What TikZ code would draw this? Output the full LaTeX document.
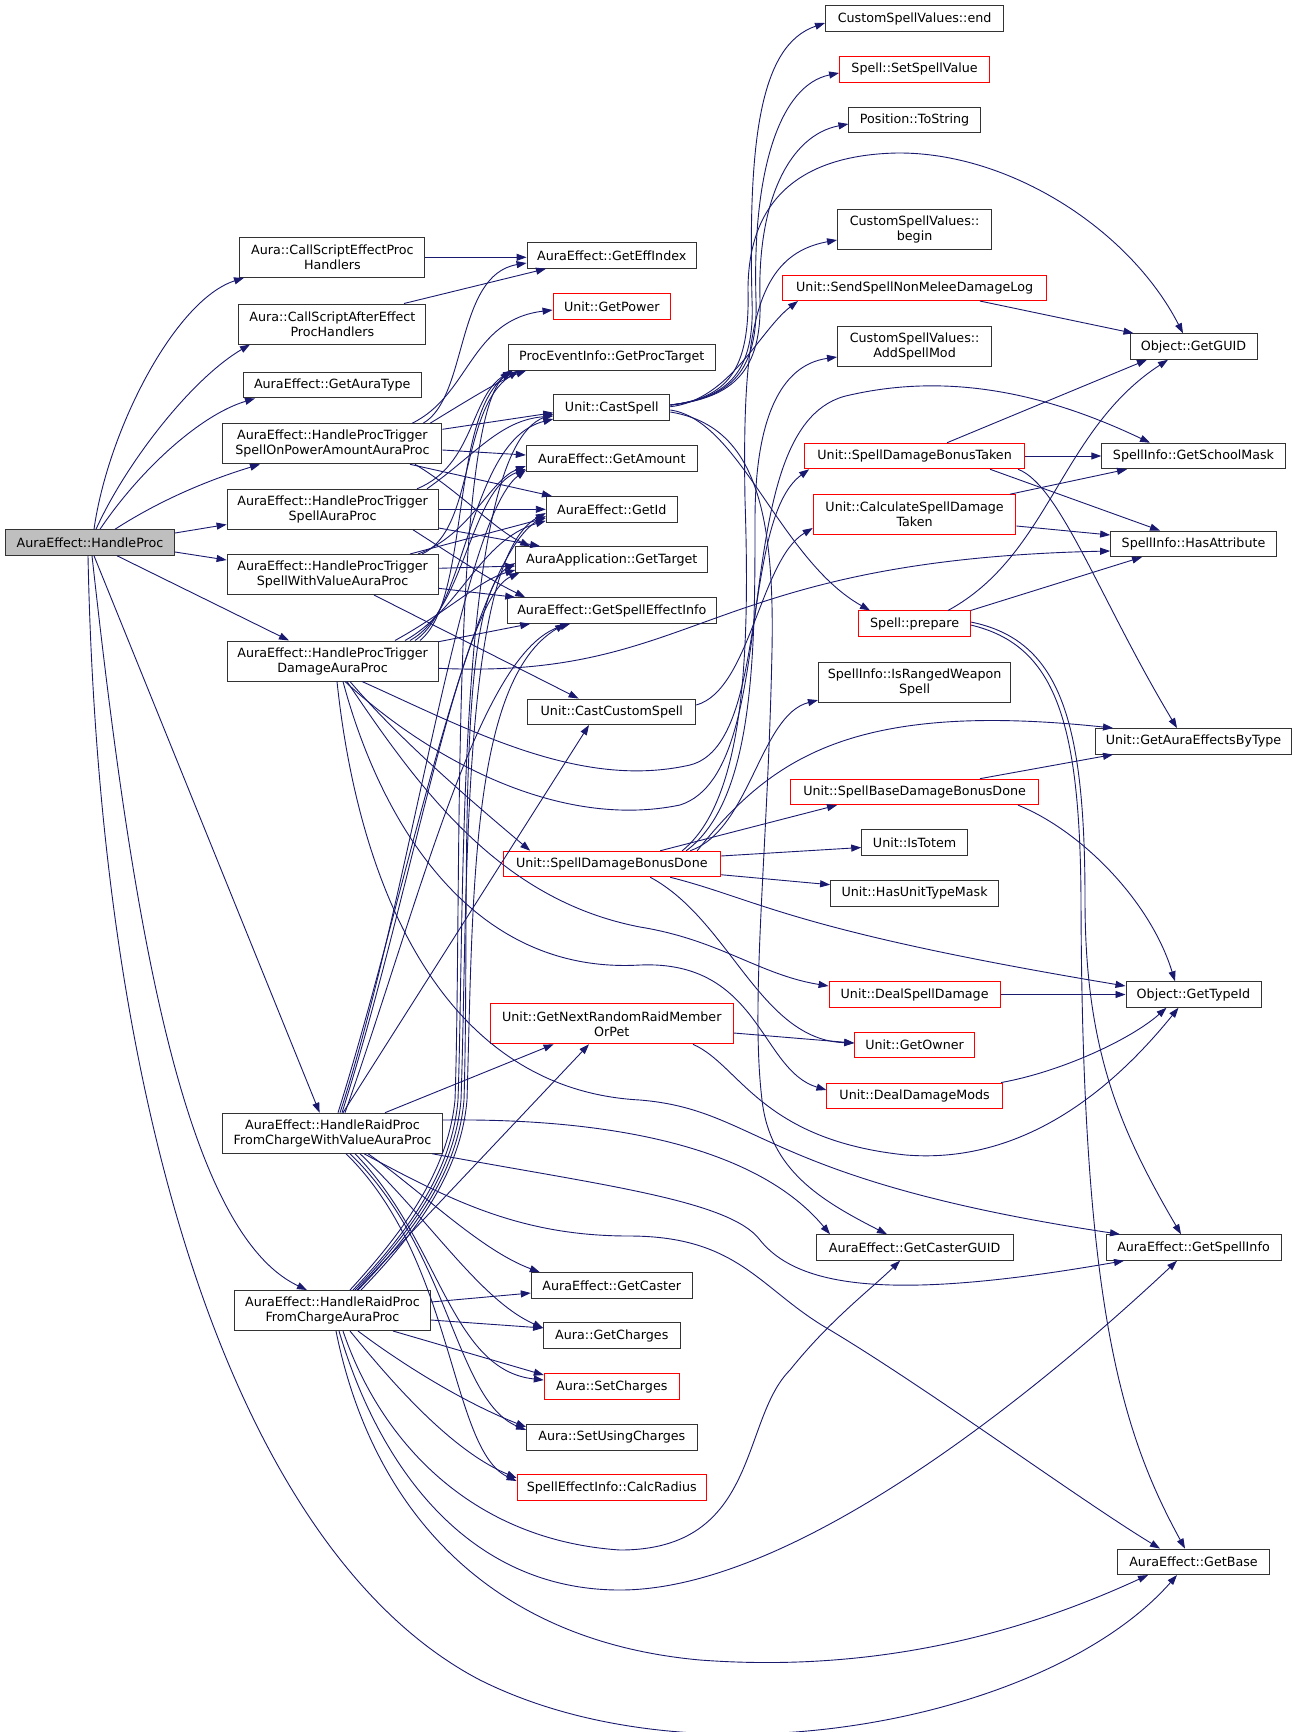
\documentclass[tikz,border=0pt]{standalone}
\usepackage{fontspec}
\setmainfont{DejaVu Sans}
\usetikzlibrary{arrows.meta}
\definecolor{mblue}{HTML}{191970}
\definecolor{boxgray}{HTML}{BFBFBF}
\tikzset{
 fn/.style={draw=black!80, fill=white, line width=1pt, inner sep=0pt, align=center, font=\fontsize{12.7}{15}\selectfont, minimum height=25.5pt},
 rn/.style={fn, draw=red},
 two/.style={minimum height=40pt},
 e/.style={draw=mblue, line width=0.9pt, -{Triangle[length=10pt,width=7pt]}},
}
\begin{document}
\begin{tikzpicture}[x=1pt,y=-1pt]
\fill[white] (0,0) rectangle (1293,1732);
\useasboundingbox (0,0) rectangle (1293,1732);
% column 1
\node[fn, fill=boxgray, minimum width=169pt] (hp) at (90,542.5) {AuraEffect::HandleProc};
% column 2
\node[fn, two, minimum width=185pt] (cse) at (332.4,257.3) {Aura::CallScriptEffectProc\\Handlers};
\node[fn, two, minimum width=187pt] (csa) at (332.4,324) {Aura::CallScriptAfterEffect\\ProcHandlers};
\node[fn, minimum width=178pt] (gat) at (332.2,385.2) {AuraEffect::GetAuraType};
\node[fn, two, minimum width=219pt] (opa) at (332.4,443.8) {AuraEffect::HandleProcTrigger\\SpellOnPowerAmountAuraProc};
\node[fn, two, minimum width=211pt] (spa) at (332.6,509.3) {AuraEffect::HandleProcTrigger\\SpellAuraProc};
\node[fn, two, minimum width=211pt] (swv) at (332.6,574.5) {AuraEffect::HandleProcTrigger\\SpellWithValueAuraProc};
\node[fn, two, minimum width=211pt] (dap) at (332.6,661) {AuraEffect::HandleProcTrigger\\DamageAuraProc};
\node[fn, two, minimum width=220pt] (rpv) at (332.5,1133.2) {AuraEffect::HandleRaidProc\\FromChargeWithValueAuraProc};
\node[fn, two, minimum width=196pt] (rpc) at (332.5,1310.5) {AuraEffect::HandleRaidProc\\FromChargeAuraProc};
% column 3
\node[fn, minimum width=169.5pt] (gei) at (611.8,255.5) {AuraEffect::GetEffIndex};
\node[rn, minimum width=117.5pt] (gpow) at (611.8,306.3) {Unit::GetPower};
\node[fn, minimum width=206.6pt] (gpt) at (611.8,357.3) {ProcEventInfo::GetProcTarget};
\node[fn, minimum width=116pt] (cast) at (611.8,407.7) {Unit::CastSpell};
\node[fn, minimum width=171pt] (gamt) at (611.8,458.5) {AuraEffect::GetAmount};
\node[fn, minimum width=131pt] (gid) at (611.8,509.3) {AuraEffect::GetId};
\node[fn, minimum width=192pt] (gtgt) at (611.8,559.5) {AuraApplication::GetTarget};
\node[fn, minimum width=209.4pt] (gsei) at (611.8,610.5) {AuraEffect::GetSpellEffectInfo};
\node[fn, minimum width=168pt] (ccs) at (611.8,711.8) {Unit::CastCustomSpell};
\node[rn, minimum width=217pt] (sdbd) at (611.8,864) {Unit::SpellDamageBonusDone};
\node[rn, two, minimum width=243pt] (gnr) at (611.8,1023.8) {Unit::GetNextRandomRaidMember\\OrPet};
\node[fn, minimum width=161pt] (gcaster) at (611.8,1285.4) {AuraEffect::GetCaster};
\node[fn, minimum width=136.4pt] (gcharges) at (611.8,1335.7) {Aura::GetCharges};
\node[rn, minimum width=135pt] (scharges) at (611.8,1386.5) {Aura::SetCharges};
\node[fn, minimum width=170.4pt] (suc) at (611.8,1437.3) {Aura::SetUsingCharges};
\node[rn, minimum width=189.3pt] (calcr) at (611.8,1487.7) {SpellEffectInfo::CalcRadius};
% column 4
\node[fn, minimum width=178.2pt] (cvend) at (914.6,18.6) {CustomSpellValues::end};
\node[rn, minimum width=150pt] (ssv) at (914.6,69.3) {Spell::SetSpellValue};
\node[fn, minimum width=131.3pt] (tostr) at (914.6,120) {Position::ToString};
\node[fn, two, minimum width=154.2pt] (cvbegin) at (914.6,229.2) {CustomSpellValues::\\begin};
\node[rn, minimum width=264.2pt] (snmdl) at (914.6,287.8) {Unit::SendSpellNonMeleeDamageLog};
\node[fn, two, minimum width=154.2pt] (addsm) at (914.6,346.5) {CustomSpellValues::\\AddSpellMod};
\node[rn, minimum width=220pt] (sdbt) at (914.6,456) {Unit::SpellDamageBonusTaken};
\node[rn, two, minimum width=202.7pt] (csdt) at (914.6,514.7) {Unit::CalculateSpellDamage\\Taken};
\node[rn, minimum width=111.3pt] (prep) at (914.6,623.7) {Spell::prepare};
\node[fn, two, minimum width=192.3pt] (irws) at (914.6,682.6) {SpellInfo::IsRangedWeapon\\Spell};
\node[rn, minimum width=248.3pt] (sbdbd) at (914.6,791.9) {Unit::SpellBaseDamageBonusDone};
\node[fn, minimum width=105.7pt] (istotem) at (914.6,842.5) {Unit::IsTotem};
\node[fn, minimum width=168pt] (hutm) at (914.6,893.3) {Unit::HasUnitTypeMask};
\node[rn, minimum width=171pt] (dsd) at (914.6,994.5) {Unit::DealSpellDamage};
\node[rn, minimum width=119.7pt] (gowner) at (914.6,1045.2) {Unit::GetOwner};
\node[rn, minimum width=175.3pt] (ddm) at (914.6,1095.8) {Unit::DealDamageMods};
\node[fn, minimum width=197pt] (gcg) at (914.6,1247.5) {AuraEffect::GetCasterGUID};
% column 5
\node[fn, minimum width=127pt] (gguid) at (1193.5,346.5) {Object::GetGUID};
\node[fn, minimum width=183.4pt] (gsm) at (1193.5,456) {SpellInfo::GetSchoolMask};
\node[fn, minimum width=165.7pt] (hasattr) at (1193.5,543.8) {SpellInfo::HasAttribute};
\node[fn, minimum width=196pt] (gaebt) at (1193.5,741.3) {Unit::GetAuraEffectsByType};
\node[fn, minimum width=135pt] (gtid) at (1193.5,994.5) {Object::GetTypeId};
\node[fn, minimum width=175pt] (gsi) at (1193.5,1247.5) {AuraEffect::GetSpellInfo};
\node[fn, minimum width=151.5pt] (gbase) at (1193.5,1561.8) {AuraEffect::GetBase};

% ---- edges from HandleProc
\draw[e] ([xshift=4]hp.north) .. controls (108,430) and (175,300) .. ([xshift=-88.4]cse.south);
\draw[e] ([xshift=6]hp.north) .. controls (125,465) and (190,380) .. ([xshift=-82.4]csa.south);
\draw[e] ([xshift=10]hp.north) .. controls (140,470) and (200,415) .. ([xshift=-77.2]gat.south);
\draw[e] ([xshift=25]hp.north) .. controls (165,497) and (215,478) .. ([xshift=-72.4]opa.south);
\draw[e] ([yshift=9.5]hp.east) -- ([yshift=-15.2]spa.west);
\draw[e] ([yshift=-9.5]hp.east) -- ([yshift=14.5]swv.west);
\draw[e] ([xshift=27]hp.south) -- ([xshift=-43.6]dap.north);
\draw[e] ([xshift=4]hp.south) -- ([xshift=-12.9]rpv.north);
\draw[e] ([xshift=2]hp.south) .. controls (130,900) and (180,1230) .. ([xshift=-25.5]rpc.north);
\draw[e] ([xshift=-2]hp.south) .. controls (100,1150) and (250,1560) .. (480,1680) .. controls (700,1790) and (1050,1720) .. ([xshift=-16.5]gbase.south);
% ---- CallScript
\draw[e] (cse.east) -- (cse.east -| gei.west);
\draw[e] ([xshift=71.6]csa.north) -- ([xshift=-65.8]gei.south);
% ---- OnPowerAmount
\draw[e] ([xshift=90.6]opa.north) .. controls (468,398) and (455,275) .. ([yshift=-7.5]gei.west);
\draw[e] ([xshift=79.6]opa.north) .. controls (470,395) and (470,320) .. ([yshift=-3.7]gpow.west);
\draw[e] ([xshift=97.6]opa.north) .. controls (460,405) and (500,380) .. ([xshift=-85.6]gpt.south);
\draw[e] ([yshift=14.5]opa.east) -- ([yshift=-5]cast.west);
\draw[e] ([yshift=-6.2]opa.east) -- ([yshift=3.5]gamt.west);
\draw[e] ([xshift=77.6]opa.south) -- ([xshift=-59.8]gid.north);
\draw[e] ([xshift=82.6]opa.south) .. controls (458,490) and (495,530) .. ([xshift=-81.6]gtgt.north);
% ---- SpellAuraProc
\draw[e] ([xshift=84.4]spa.north) .. controls (475,465) and (470,395) .. ([xshift=5]gpt.south west);
\draw[e] ([xshift=94.4]spa.north) .. controls (475,455) and (500,420) .. ([yshift=-8.3]cast.west);
\draw[e] (spa.east) -- (gid.west);
\draw[e] ([yshift=-18.7]spa.east) -- ([xshift=-71.6]gtgt.north);
\draw[e] ([xshift=80.4]spa.south) .. controls (460,560) and (490,580) .. ([xshift=-86.6]gsei.north);
% ---- SpellWithValue
\draw[e] ([xshift=89.4]swv.north) .. controls (475,530) and (460,410) .. ([xshift=-93.6]gpt.south);
\draw[e] ([xshift=85.4]swv.north) .. controls (470,535) and (490,480) .. ([yshift=-7.5]gamt.west);
\draw[e] ([xshift=77.4]swv.north) -- ([yshift=-8.7]gid.west);
\draw[e] ([yshift=6.2]swv.east) -- ([yshift=-6.5]gtgt.west);
\draw[e] ([yshift=-13.8]swv.east) -- ([xshift=-96.6]gsei.north);
\draw[e] ([xshift=41.4]swv.south) -- ([xshift=-33.2]ccs.north);
% ---- DamageAuraProc
\draw[e] ([xshift=87.4]dap.north) .. controls (470,600) and (450,420) .. ([xshift=-100]gpt.south);
\draw[e] ([xshift=82.4]dap.north) .. controls (468,605) and (470,440) .. ([yshift=-11.3]cast.west);
\draw[e] ([xshift=77.4]dap.north) .. controls (465,610) and (470,490) .. ([yshift=-10.5]gamt.west);
\draw[e] ([xshift=72.4]dap.north) .. controls (460,610) and (480,540) .. ([yshift=-11.5]gid.west);
\draw[e] ([xshift=62.4]dap.north) .. controls (450,610) and (480,580) .. ([yshift=-10.5]gtgt.west);
\draw[e] ([yshift=19.3]dap.east) -- ([xshift=-81.6]gsei.south);
\draw[e] ([yshift=-7.3]dap.east) .. controls (700,680) and (700,560) .. ([yshift=-7.2]hasattr.west);
\draw[e] ([xshift=29.4]dap.south) .. controls (470,730) and (580,790) .. (690,765) .. controls (770,745) and (740,520) .. ([xshift=5]sdbt.south west);
\draw[e] ([xshift=12.4]dap.south) .. controls (430,760) and (560,830) .. (680,805) .. controls (790,770) and (720,420) .. (850,395) .. controls (960,370) and (1060,400) .. ([xshift=-43.5]gsm.north);
\draw[e] ([xshift=17.4]dap.south) .. controls (400,740) and (470,800) .. ([xshift=-81.6]sdbd.north);
\draw[e] ([xshift=14.4]dap.south) .. controls (420,790) and (500,900) .. (640,927) .. controls (720,940) and (760,975) .. ([yshift=8.5]dsd.west);
\draw[e] ([xshift=10.4]dap.south) .. controls (380,820) and (470,975) .. (640,965) .. controls (760,960) and (760,1070) .. ([yshift=5.8]ddm.west);
\draw[e] ([xshift=4.4]dap.south) .. controls (360,900) and (450,1090) .. (640,1100) .. controls (760,1110) and (760,1180) .. ([xshift=-73.5]gsi.north);
% ---- RaidProcFromChargeWithValue
\draw[e] ([xshift=7.5]rpv.north) .. controls (410,900) and (460,520) .. ([yshift=-11.5]gamt.west);
\draw[e] ([xshift=5.5]rpv.north) .. controls (405,900) and (470,560) .. ([yshift=-6.7]gid.west);
\draw[e] ([xshift=9.5]rpv.north) .. controls (410,900) and (460,600) .. ([xshift=4]gtgt.south west);
\draw[e] ([xshift=12.5]rpv.north) .. controls (420,900) and (480,650) .. ([xshift=-41.6]gsei.south);
\draw[e] ([xshift=10.5]rpv.north) -- ([xshift=-22.8]ccs.south);
\draw[e] ([xshift=52.5]rpv.north) -- ([xshift=-58.2]gnr.south);
\draw[e] ([yshift=13.2]rpv.east) .. controls (620,1118) and (760,1150) .. ([xshift=-84.6]gcg.north);
\draw[e] ([xshift=99.5]rpv.south) .. controls (600,1185) and (730,1200) .. (760,1240) .. controls (800,1290) and (900,1300) .. ([xshift=-69.5]gsi.south);
\draw[e] ([xshift=31.5]rpv.south) .. controls (450,1200) and (520,1236) .. (629,1236) .. controls (740,1236) and (760,1290) .. (830,1330) .. controls (930,1390) and (1080,1500) .. ([xshift=-33.5]gbase.north);
\draw[e] ([xshift=35.5]rpv.south) .. controls (420,1190) and (480,1250) .. ([xshift=-72]gcaster.north);
\draw[e] ([xshift=27.5]rpv.south) .. controls (430,1220) and (480,1300) .. ([yshift=7.7]gcharges.west);
\draw[e] ([xshift=22.5]rpv.south) .. controls (440,1240) and (450,1370) .. ([yshift=6.5]scharges.west);
\draw[e] ([xshift=17.5]rpv.south) .. controls (450,1250) and (455,1400) .. ([yshift=7.3]suc.west);
\draw[e] ([xshift=13.5]rpv.south) .. controls (455,1260) and (450,1450) .. ([yshift=6.7]calcr.west);
% ---- RaidProcFromCharge
\draw[e] ([xshift=17.5]rpc.north) .. controls (405,1230) and (448,1170) .. (455,1100) .. controls (462,900) and (450,430) .. ([xshift=2]gpt.south west);
\draw[e] ([xshift=20.5]rpc.north) .. controls (410,1230) and (452,1170) .. (458,1100) .. controls (465,900) and (455,450) .. ([yshift=-6.3]cast.west);
\draw[e] ([xshift=22.5]rpc.north) .. controls (413,1230) and (455,1170) .. (461,1100) .. controls (468,900) and (460,560) .. ([yshift=-3.7]gid.west);
\draw[e] ([xshift=25.5]rpc.north) .. controls (416,1230) and (458,1170) .. (464,1100) .. controls (470,900) and (455,600) .. ([yshift=-3.5]gtgt.west);
\draw[e] ([xshift=28.5]rpc.north) .. controls (419,1230) and (461,1170) .. (467,1100) .. controls (473,900) and (470,680) .. ([xshift=-46.6]gsei.south);
\draw[e] ([xshift=24.5]rpc.north) -- ([xshift=-22.8]gnr.south);
\draw[e] ([yshift=8.5]rpc.east) -- ([yshift=-7.6]gcaster.west);
\draw[e] ([yshift=-9.5]rpc.east) -- ([yshift=7.7]gcharges.west);
\draw[e] ([xshift=60.5]rpc.south) -- ([yshift=11.5]scharges.west);
\draw[e] ([xshift=25.5]rpc.south) .. controls (410,1370) and (470,1405) .. ([yshift=10.3]suc.west);
\draw[e] ([xshift=17.5]rpc.south) .. controls (390,1380) and (450,1450) .. ([yshift=9.7]calcr.west);
\draw[e] ([xshift=10.5]rpc.south) .. controls (380,1440) and (470,1540) .. (620,1550) .. controls (760,1550) and (740,1420) .. (790,1370) .. controls (830,1320) and (870,1290) .. ([xshift=-14.6]gcg.south);
\draw[e] ([xshift=6.5]rpc.south) .. controls (380,1470) and (470,1590) .. (620,1590) .. controls (800,1590) and (1050,1380) .. ([xshift=-16.5]gsi.south);
\draw[e] ([xshift=3.5]rpc.south) .. controls (370,1500) and (480,1640) .. (700,1660) .. controls (900,1675) and (1050,1620) .. ([xshift=-45.5]gbase.south);
% ---- Unit::CastSpell
\draw[e] ([yshift=2.7]cast.east) .. controls (730,398) and (755,370) .. (752,300) .. controls (748,140) and (760,45) .. ([yshift=-4.4]cvend.west);
\draw[e] ([yshift=2.7]cast.east) .. controls (732,398) and (758,370) .. (756,300) .. controls (752,170) and (780,85) .. ([yshift=-3.7]ssv.west);
\draw[e] ([yshift=2.7]cast.east) .. controls (734,398) and (762,370) .. (760,300) .. controls (757,200) and (790,135) .. ([yshift=-4]tostr.west);
\draw[e] ([yshift=2.7]cast.east) .. controls (728,398) and (750,370) .. (748,290) .. controls (748,200) and (800,155) .. (897,153) .. controls (1010,152) and (1130,230) .. ([xshift=-10.5]gguid.north);
\draw[e] ([yshift=1]cast.east) .. controls (730,400) and (760,330) .. ([xshift=-116.6]snmdl.south);
\draw[e] ([yshift=-2.3]cast.east) .. controls (740,420) and (780,560) .. ([xshift=-44.6]prep.north);
\draw[e] ([yshift=-4.3]cast.east) .. controls (750,425) and (775,500) .. (772,650) .. controls (768,850) and (750,1000) .. (762,1100) .. controls (770,1170) and (820,1200) .. ([xshift=-27.6]gcg.north);
% ---- Unit::CastCustomSpell
\draw[e] ([yshift=6.8]ccs.east) .. controls (750,690) and (760,560) .. ([yshift=-13.3]csdt.west);
% ---- Unit::SpellDamageBonusDone
\draw[e] ([xshift=48.4]sdbd.north) -- ([xshift=-77.6]sbdbd.south);
\draw[e] ([yshift=8]sdbd.east) -- ([yshift=-5]istotem.west);
\draw[e] ([yshift=-10.7]sdbd.east) -- ([yshift=8.6]hutm.west);
\draw[e] ([xshift=78.4]sdbd.north) .. controls (750,830) and (760,715) .. ([yshift=3]irws.south west);
\draw[e] ([xshift=85.4]sdbd.north) .. controls (770,760) and (850,700) .. ([xshift=-80.5]gaebt.north);
\draw[e] ([xshift=70.4]sdbd.north) .. controls (745,800) and (750,650) .. (745,500) .. controls (742,330) and (755,255) .. ([yshift=-10.8]cvbegin.west);
\draw[e] ([xshift=74.4]sdbd.north) .. controls (755,800) and (755,650) .. (755,520) .. controls (755,420) and (780,365) .. ([yshift=-10.5]addsm.west);
\draw[e] ([xshift=58.4]sdbd.south) .. controls (760,900) and (790,930) .. ([yshift=8.5]gtid.west);
\draw[e] ([xshift=38.4]sdbd.south) .. controls (730,920) and (760,1040) .. ([yshift=2.2]gowner.west);
% ---- GetNextRandomRaidMemberOrPet
\draw[e] ([yshift=-9.2]gnr.east) -- ([yshift=2.2]gowner.west);
\draw[e] ([xshift=81.2]gnr.south) .. controls (740,1065) and (760,1140) .. (906,1155) .. controls (1030,1165) and (1120,1080) .. ([xshift=-15]gtid.south);
% ---- SpellDamageBonusTaken
\draw[e] ([xshift=32.4]sdbt.north) -- ([xshift=-46.5]gguid.south);
\draw[e] (sdbt.east) -- (gsm.west);
\draw[e] ([xshift=75.4]sdbt.south) -- ([xshift=-33.5]hasattr.north);
\draw[e] ([xshift=103.4]sdbt.south) .. controls (1060,485) and (1100,600) .. ([xshift=-16.5]gaebt.north);
% ---- CalculateSpellDamageTaken
\draw[e] ([xshift=95.4]csdt.north) -- ([xshift=-66.5]gsm.south);
\draw[e] ([yshift=-11.3]csdt.east) -- ([yshift=8.8]hasattr.west);
% ---- Spell::prepare
\draw[e] ([xshift=33.4]prep.north) .. controls (1050,555) and (1060,430) .. ([xshift=-25.5]gguid.south);
\draw[e] (prep.north east) -- ([xshift=-51.5]hasattr.south);
\draw[e] ([yshift=1.7]prep.east) .. controls (1060,640) and (1085,720) .. (1085,900) .. controls (1085,1050) and (1120,1130) .. ([xshift=-12.5]gsi.north);
\draw[e] ([yshift=-1.3]prep.east) .. controls (1055,645) and (1080,720) .. (1081,900) .. controls (1082,1300) and (1120,1430) .. ([xshift=-8.5]gbase.north);
% ---- others
\draw[e] ([xshift=65.4]snmdl.south) -- ([xshift=4]gguid.north west);
\draw[e] ([xshift=65.4]sbdbd.north) -- ([xshift=-80.5]gaebt.south);
\draw[e] ([xshift=103.4]sbdbd.south) .. controls (1080,830) and (1150,900) .. ([xshift=-18.5]gtid.north);
\draw[e] (dsd.east) -- (gtid.west);
\draw[e] ([xshift=86.4]ddm.north) .. controls (1060,1072) and (1130,1040) .. ([xshift=-27]gtid.south);
\end{tikzpicture}
\end{document}
